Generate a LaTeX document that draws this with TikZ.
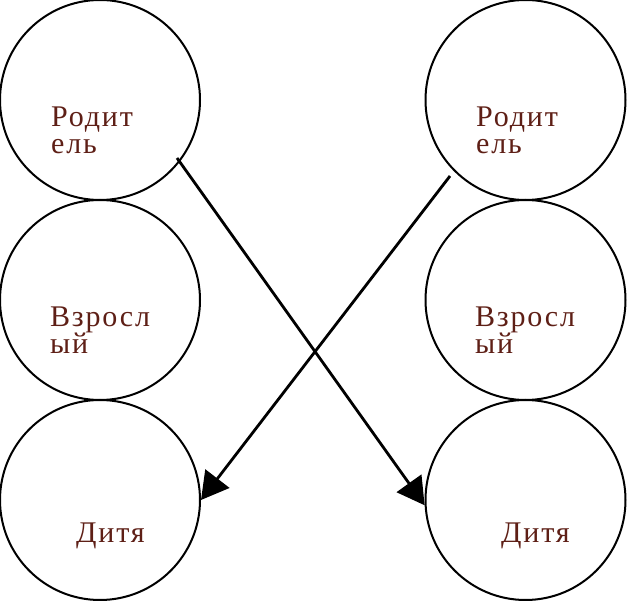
\documentclass[tikz,border=0pt]{standalone}
\usepackage{fontspec}
\newfontfamily\lblfont[LetterSpace=6]{Liberation Serif}
\usetikzlibrary{arrows.meta}
\definecolor{lblcol}{RGB}{94,31,22}
\begin{document}
\begin{tikzpicture}[x=1pt,y=-1pt,
  ring/.style={circle,draw=black,line width=2pt,minimum size=200pt,inner sep=0pt},
  lbl/.style={anchor=base west,inner sep=0pt,align=left,text=lblcol,
    font=\lblfont\fontsize{30}{26.5}\selectfont},
  link/.style={line width=2.8pt,-{Triangle[length=27pt,width=30pt]}}]
\useasboundingbox (0,0) rectangle (627,601);
\node[ring] (TL) at (100,100) {};
\node[ring] (ML) at (100,300) {};
\node[ring] (BL) at (100,500) {};
\node[ring] (TR) at (525.5,100) {};
\node[ring] (MR) at (525.5,300) {};
\node[ring] (BR) at (525.5,500) {};
\node[lbl] (tTL) at (51,153.5) {Родит\\ель};
\node[lbl] (tML) at (50,354) {Взросл\\ый};
\node[lbl] (tBL) at (76,543) {Дитя};
\node[lbl] (tTR) at (476,153.5) {Родит\\ель};
\node[lbl] (tMR) at (475,354) {Взросл\\ый};
\node[lbl] (tBR) at (501,543) {Дитя};
\coordinate (s1) at (177,158);
\coordinate (s2) at (450,176);
\draw[link] (s1) -- (BR.183);
\draw[link] (s2) -- (BL.0);
\end{tikzpicture}
\end{document}
